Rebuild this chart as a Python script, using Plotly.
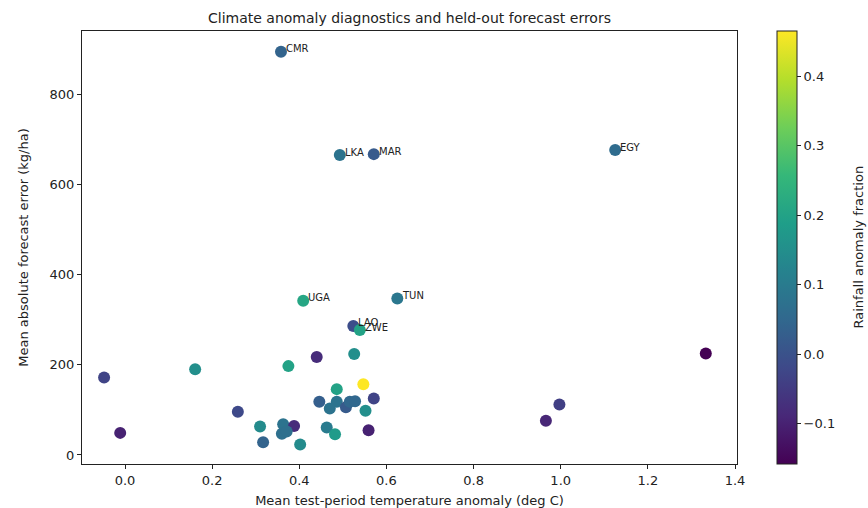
import plotly.graph_objects as go

temp_anom = [0.358, 0.493, 0.571, 1.125, 0.409, 0.625, 0.524, 0.539,
             -0.048, -0.011, 0.161, 0.259, 0.310, 0.317, 0.375, 0.440,
             0.526, 0.547, 0.486, 0.571, 0.446, 0.486, 0.470, 0.507,
             0.516, 0.528, 0.552, 0.363, 0.388, 0.360, 0.371, 0.402,
             0.463, 0.482, 0.559, 0.997, 0.966, 1.333]
mae = [894, 665, 667, 676, 342, 347, 286, 277,
       172, 49, 190, 96, 63, 28, 197, 217,
       224, 157, 146, 125, 118, 118, 103, 106,
       118, 119, 98, 68, 64, 47, 52, 23,
       61, 46, 55, 112, 76, 225]
rain_anom = [0.04, 0.08, 0.02, 0.06, 0.21, 0.09, -0.01, 0.20,
             -0.03, -0.10, 0.15, -0.02, 0.14, 0.04, 0.20, -0.08,
             0.15, 0.465, 0.20, -0.03, 0.03, 0.08, 0.08, 0.02,
             0.05, 0.05, 0.15, 0.08, -0.08, 0.07, 0.07, 0.14,
             0.10, 0.18, -0.10, -0.04, -0.09, -0.158]
labels = ["CMR", "LKA", "MAR", "EGY", "UGA", "TUN", "LAO", "ZWE"] + [""] * 30

font = "DejaVu Sans, sans-serif"
W, H = 868, 508
L, R, T, B = 82, 737, 31, 464

fig = go.Figure()
fig.add_trace(go.Scatter(
    x=temp_anom, y=mae, mode="markers",
    marker=dict(size=12, color=rain_anom, colorscale="Viridis",
                cmin=-0.158, cmax=0.465, line=dict(width=0),
                colorbar=dict(
                    title=dict(text=""),
                    thickness=20, len=1.0, lenmode="fraction",
                    xpad=0, ypad=0,
                    x=(777 - L) / (R - L), xanchor="left", y=0.5, yanchor="middle",
                    outlinecolor="#222", outlinewidth=1,
                    ticks="outside", ticklen=4, tickcolor="#222",
                    tickvals=[-0.1, 0.0, 0.1, 0.2, 0.3, 0.4],
                    ticktext=["\u22120.1", "0.0", "0.1", "0.2", "0.3", "0.4"],
                    tickfont=dict(size=13, color="#222"),
                )),
    hoverinfo="x+y", showlegend=False,
))

for xv, yv, lab in zip(temp_anom, mae, labels):
    if lab:
        fig.add_annotation(x=xv, y=yv, text=lab, showarrow=False,
                           xanchor="left", yanchor="middle", xshift=3, yshift=3,
                           font=dict(size=10, color="#222", family=font))

fig.add_annotation(x=(858 - L) / (R - L), y=0.5, xref="paper", yref="paper",
                   text="Rainfall anomaly fraction", textangle=-90, showarrow=False,
                   xanchor="center", yanchor="middle",
                   font=dict(size=13, color="#222", family=font))

axis_common = dict(showgrid=False, zeroline=False, showline=True, linecolor="#222",
                   linewidth=1, mirror=True, ticks="outside", ticklen=4,
                   tickcolor="#222", tickfont=dict(size=13, color="#222"),
                   automargin=False)

fig.update_xaxes(range=[-0.0987, 1.4046], tickvals=[0.0, 0.2, 0.4, 0.6, 0.8, 1.0, 1.2, 1.4],
                 ticktext=["0.0", "0.2", "0.4", "0.6", "0.8", "1.0", "1.2", "1.4"],
                 title=dict(text="Mean test-period temperature anomaly (deg C)",
                            font=dict(size=13, color="#222"), standoff=12),
                 **axis_common)
fig.update_yaxes(range=[-20, 940], tickvals=[0, 200, 400, 600, 800],
                 title=dict(text="Mean absolute forecast error (kg/ha)",
                            font=dict(size=13, color="#222"), standoff=18),
                 **axis_common)

fig.update_layout(
    width=W, height=H,
    margin=dict(l=L, r=W - R, t=T, b=H - B, autoexpand=False),
    paper_bgcolor="white", plot_bgcolor="white",
    font=dict(family=font, color="#222"),
    title=dict(text="Climate anomaly diagnostics and held-out forecast errors",
               x=(L + R) / 2 / W, xanchor="center", y=1 - 18 / H, yanchor="middle",
               font=dict(size=14, color="#222")),
)

fig.write_html("out.html")
